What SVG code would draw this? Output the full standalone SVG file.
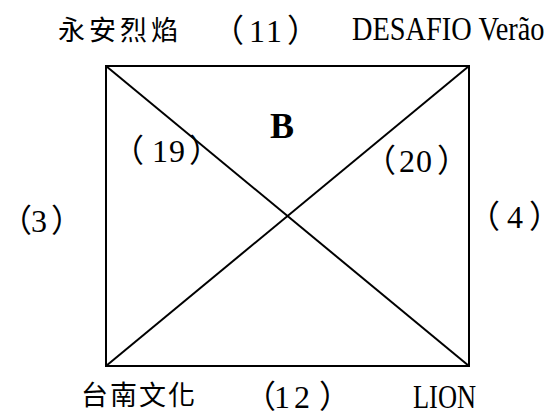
<svg xmlns="http://www.w3.org/2000/svg" width="552" height="414" viewBox="0 0 552 414">
<style>
.cjk{font-family:"Noto Sans CJK TC","Noto Sans CJK SC",sans-serif;font-size:27px;fill:#000}
.num{font-family:"Liberation Serif","Noto Sans CJK TC",serif;font-size:32px;fill:#000}
.lat{font-family:"Liberation Serif",serif;font-size:33px;fill:#000}
.b{font-family:"Liberation Serif",serif;font-size:36px;font-weight:bold;fill:#000}
.ln{stroke:#000;stroke-width:2;fill:none}
</style>
<rect width="552" height="414" fill="#fff"/>
<g id="connectors">
<rect class="ln" x="106" y="66" width="363" height="300"/>
<line class="ln" x1="106" y1="66" x2="469" y2="366"/>
<line class="ln" x1="469" y1="66" x2="106" y2="366"/>
</g>
<g id="labels">
<text class="cjk" x="58" y="40" letter-spacing="4">永安烈焰</text>
<text class="num" x="212 249 266 287" y="42">（11）</text>
<text class="lat" transform="translate(352,40) scale(0.86,1)" x="0" y="0">DESAFIO Verão</text>
<text class="b" x="270" y="138">B</text>
<text class="num" x="112 152 169 189" y="162">（19）</text>
<text class="num" x="364 399 416 437" y="172">（20）</text>
<text class="num" x="0 31 51" y="232">（3）</text>
<text class="num" x="468 507 529" y="228" letter-spacing="-12">（4）</text>
<text class="cjk" x="81" y="405" letter-spacing="2">台南文化</text>
<text class="num" x="244 274 294 319" y="408">（12）</text>
<text class="lat" transform="translate(413,408) scale(0.8,1)" x="0" y="0" font-size="32">LION</text>
</g>
</svg>
